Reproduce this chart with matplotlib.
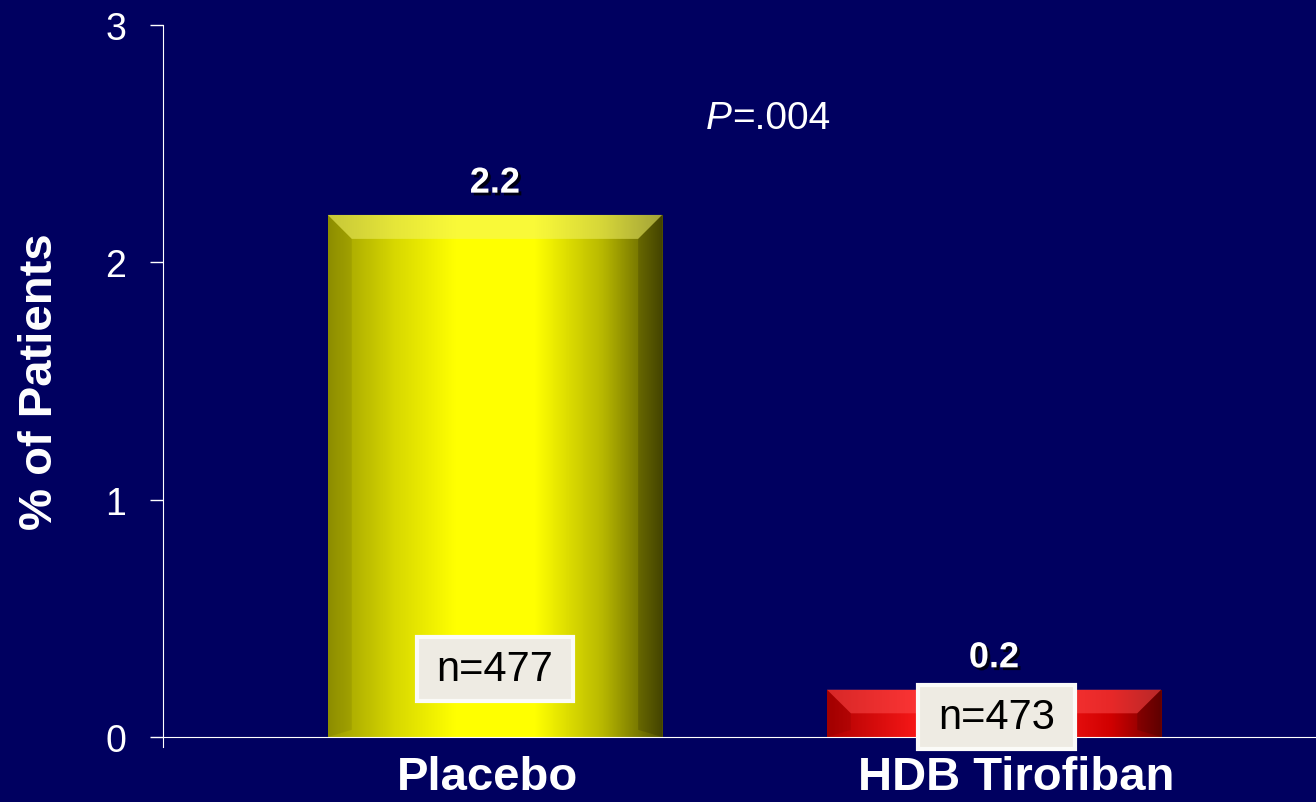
import numpy as np
import matplotlib
matplotlib.use('Agg')
import matplotlib.pyplot as plt
from matplotlib.colors import LinearSegmentedColormap
from matplotlib.patches import Polygon, Rectangle
from matplotlib.transforms import ScaledTranslation
import matplotlib.patheffects as pe

# data
groups = ['Placebo', 'HDB Tirofiban']
values = [2.2, 0.2]
n_labels = ['n=477', 'n=473']
p_text = '=.004'

bg = '#000060'
plt.rcParams['font.family'] = ['Liberation Sans', 'DejaVu Sans']

fig = plt.figure(figsize=(13.16, 8.03), dpi=100)
fig.patch.set_facecolor(bg)
ax = fig.add_axes([0.1239, 0.0809, 0.8761, 0.8867])
ax.set_facecolor(bg)

x = np.arange(len(groups))
bars = ax.bar(x, values, width=0.67, color='none', edgecolor='none', zorder=2)

ax.set_xlim(-0.665, 1.645)
ax.set_ylim(0, 3)
ax.set_yticks([0, 1, 2, 3])
ax.set_xticks(x)
ax.set_xticklabels(groups, fontsize=34, fontweight='bold', color='white')
ax.tick_params(axis='x', length=0, pad=13)
ax.tick_params(axis='y', colors='white', labelsize=27, length=9.5, width=1, pad=17)
# nudge category labels like the slide
for lab, off in zip(ax.get_xticklabels(), [-7, 22]):
    lab.set_transform(lab.get_transform() + ScaledTranslation(off / 100, 0, fig.dpi_scale_trans))
for s in ['top', 'right']:
    ax.spines[s].set_visible(False)
ax.spines['left'].set_color('white')
ax.spines['bottom'].set_color('white')
ax.spines['left'].set_bounds(-0.04, 3)
ax.set_ylabel('% of Patients', fontsize=34, fontweight='bold', color='white', labelpad=31)

cmaps = [
    LinearSegmentedColormap.from_list('yel', [(0, '#9a9a00'), (0.2, '#d8d800'), (0.38, '#ffff00'),
                                              (0.62, '#ffff00'), (0.82, '#b8b800'), (1, '#505000')]),
    LinearSegmentedColormap.from_list('red', [(0, '#b00000'), (0.3, '#ff1a1a'), (0.6, '#ff2020'),
                                              (0.85, '#d00000'), (1, '#700000')]),
]
tops = ['#f4f470', '#ff5050']
fig.canvas.draw()
px_x = ax.transData.transform((1, 0))[0] - ax.transData.transform((0, 0))[0]
px_y = ax.transData.transform((0, 1))[1] - ax.transData.transform((0, 0))[1]
bev = 24
for b, cm, tc in zip(bars, cmaps, tops):
    x0, w, h = b.get_x(), b.get_width(), b.get_height()
    grad = np.linspace(0, 1, 256).reshape(1, -1)
    im = ax.imshow(grad, cmap=cm, aspect='auto', extent=(x0, x0 + w, 0, h), zorder=2)
    im.set_clip_path(b)
    dx, dy = bev / px_x, min(bev / px_y, h / 2)
    top = Polygon([(x0, h), (x0 + w, h), (x0 + w - dx, h - dy), (x0 + dx, h - dy)],
                  closed=True, facecolor=tc, alpha=0.5, edgecolor='none', zorder=3)
    left = Polygon([(x0, h), (x0 + dx, h - dy), (x0 + dx, dy * 0.3), (x0, 0)],
                   closed=True, facecolor='black', alpha=0.08, edgecolor='none', zorder=3)
    right = Polygon([(x0 + w, h), (x0 + w - dx, h - dy), (x0 + w - dx, dy * 0.3), (x0 + w, 0)],
                    closed=True, facecolor='black', alpha=0.15, edgecolor='none', zorder=3)
    for p in (top, left, right):
        ax.add_patch(p)
    ax.text(b.get_x() + w / 2, h + 0.06, f'{h:.1f}', ha='center', va='bottom', fontsize=26,
            fontweight='bold', color='white', zorder=5,
            path_effects=[pe.withSimplePatchShadow(offset=(2, -2), shadow_rgbFace='black', alpha=0.8)])

# n boxes
n_pos = [(0.0, 0.287), (1.005, 0.084)]
for (nx, ny), lab in zip(n_pos, n_labels):
    t = ax.text(nx, ny, lab, ha='center', va='center', fontsize=30, color='black', zorder=7)
    fig.canvas.draw()
    bb = t.get_window_extent()
    inv = ax.transData.inverted()
    (bx0, by0) = inv.transform((bb.x0 - 20, bb.y0 - 12))
    (bx1, by1) = inv.transform((bb.x1 + 20, bb.y1 + 12))
    ax.add_patch(Rectangle((bx0, by0), bx1 - bx0, by1 - by0, facecolor='#eeebe3',
                           edgecolor='#fbfbf8', linewidth=3, zorder=6, clip_on=False))

pt = ax.text(0.423, 2.607, 'P', fontsize=28, style='italic', color='white', ha='left', va='center')
ax.annotate(p_text, xy=(1, 0), xycoords=pt, fontsize=28, color='white', ha='left', va='bottom')

fig.savefig('out.png', dpi=100, facecolor=bg)
